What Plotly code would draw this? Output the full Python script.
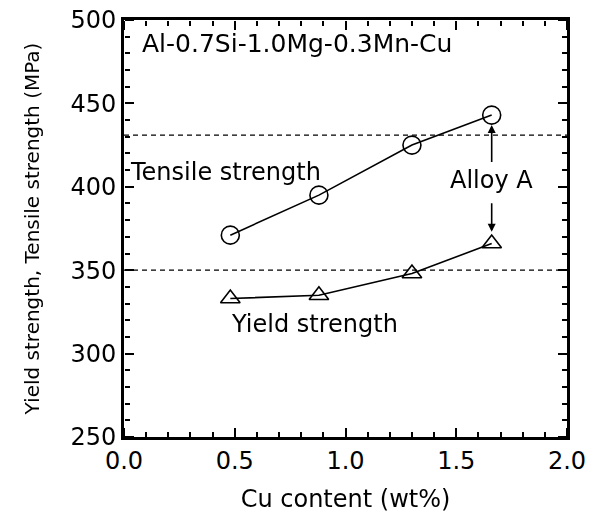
import plotly.graph_objects as go

cu = [0.48, 0.88, 1.30, 1.66]
tensile = [371, 395, 425, 443]
yield_s = [333, 335, 348, 366]
ref_tensile = 431
ref_yield = 350

FONT = "DejaVu Sans, Liberation Sans, Arial, sans-serif"
XR = [0, 2.0]
YR = [250, 500]

fig = go.Figure()
fig.add_trace(go.Scatter(x=cu, y=tensile, mode="lines+markers",
                         line=dict(color="black", width=1.6),
                         marker=dict(symbol="circle-open", size=18, color="black", line=dict(width=1.6)),
                         showlegend=False))
fig.add_trace(go.Scatter(x=cu, y=yield_s, mode="lines+markers",
                         line=dict(color="black", width=1.6),
                         marker=dict(symbol="triangle-up-open", size=17, color="black", line=dict(width=1.6)),
                         showlegend=False))
# invisible helper traces so the tick-only overlay axes are drawn
for xa, ya in [("x2", "y2"), ("x3", "y3")]:
    fig.add_trace(go.Scatter(x=cu, y=tensile, mode="markers", opacity=0, xaxis=xa, yaxis=ya,
                             hoverinfo="skip", showlegend=False))

for yv in [ref_tensile, ref_yield]:
    fig.add_shape(type="line", x0=0, x1=2.0, y0=yv, y1=yv, xref="x", yref="y",
                  line=dict(color="black", width=1.3, dash="5px,4px"), layer="below")

fig.add_annotation(x=0.02, y=409, text="Tensile strength", showarrow=False, xanchor="left",
                   font=dict(family=FONT, size=24, color="black"))
fig.add_annotation(x=0.86, y=318, text="Yield strength", showarrow=False,
                   font=dict(family=FONT, size=24, color="black"))
fig.add_annotation(x=0.07, y=486, text="Al-0.7Si-1.0Mg-0.3Mn-Cu", showarrow=False, xanchor="left",
                   font=dict(family=FONT, size=25, color="black"))
fig.add_annotation(x=1.66, y=404, text="Alloy A", showarrow=False,
                   font=dict(family=FONT, size=24, color="black"))
fig.add_annotation(x=1.66, y=437, ax=1.66, ay=414, axref="x", ayref="y", xref="x", yref="y",
                   text="", showarrow=True, arrowhead=2, arrowsize=1, arrowwidth=1.6, arrowcolor="black")
fig.add_annotation(x=1.66, y=373, ax=1.66, ay=391, axref="x", ayref="y", xref="x", yref="y",
                   text="", showarrow=True, arrowhead=2, arrowsize=1, arrowwidth=1.6, arrowcolor="black")

main_common = dict(showline=True, linecolor="black", linewidth=3, mirror=True,
                   ticks="", showgrid=False, zeroline=False, automargin=False,
                   tickfont=dict(family=FONT, size=24, color="black"))

tick_common = dict(showline=False, showgrid=False, zeroline=False, showticklabels=False,
                   ticks="outside", ticklen=9, tickwidth=2, tickcolor="black",
                   anchor="free", automargin=False, layer="above traces")
xminor = dict(ticks="outside", ticklen=5, tickwidth=1.5, tickcolor="black", dtick=0.1, showgrid=False)
yminor = dict(ticks="outside", ticklen=5, tickwidth=1.5, tickcolor="black", dtick=10, showgrid=False)

fig.update_layout(
    xaxis=dict(range=XR, tickmode="linear", tick0=0, dtick=0.5, tickformat=".1f",
               title=dict(text="Cu content (wt%)", font=dict(family=FONT, size=24, color="black"), standoff=20),
               **main_common),
    yaxis=dict(range=YR, tickmode="linear", tick0=250, dtick=50,
               title=dict(text="Yield strength, Tensile strength (MPa)", font=dict(family=FONT, size=20, color="black"), standoff=26),
               **main_common),
    xaxis2=dict(range=XR, overlaying="x", side="top", position=0, tickmode="linear", tick0=0, dtick=0.5,
                minor=xminor, **tick_common),
    xaxis3=dict(range=XR, overlaying="x", side="bottom", position=1, tickmode="linear", tick0=0, dtick=0.5,
                minor=xminor, **tick_common),
    yaxis2=dict(range=YR, overlaying="y", side="right", position=0, tickmode="linear", tick0=250, dtick=50,
                minor=yminor, **tick_common),
    yaxis3=dict(range=YR, overlaying="y", side="left", position=1, tickmode="linear", tick0=250, dtick=50,
                minor=yminor, **tick_common),
    width=600, height=513, margin=dict(l=124, r=33, t=20, b=76),
    plot_bgcolor="rgba(0,0,0,0)", paper_bgcolor="white",
    font=dict(family=FONT, color="black"),
)

fig.write_html("out.html")
